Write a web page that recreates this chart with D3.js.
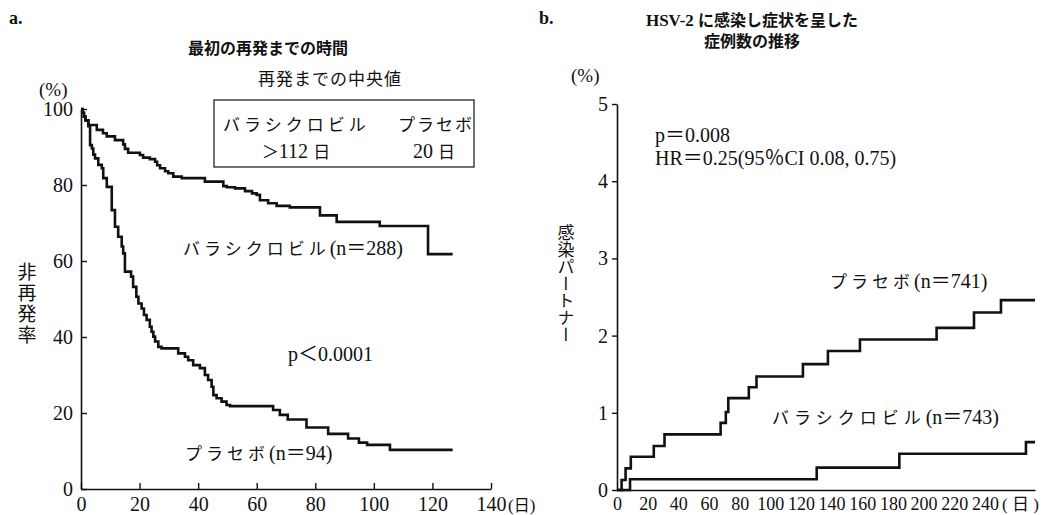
<!DOCTYPE html>
<html><head><meta charset="utf-8">
<script src="https://cdn.jsdelivr.net/npm/d3@7"></script>
<style>
body{margin:0;background:#fff;}
svg text{font-family:"Liberation Serif","Noto Sans CJK JP",serif;fill:#111;}
</style></head>
<body>
<svg id="c" width="1042" height="515"></svg>
<script>
// ---- Panel a: time to first recurrence (Kaplan-Meier, % recurrence-free)
const aValaDays = [0,0.5,1,1.5,2.5,5.4,7.5,8.8,11.6,14.4,15,16.1,20.1,21.2,23.5,25.3,26,27,28.7,29.8,31.5,34.4,42.3,48.6,49.8,52.6,56,58.4,60,61.1,63.9,66.8,71.3,81.6,87.3,102,118.5,126.9];
const aValaPct  = [100,99,98,97,95.8,94.5,93.6,92.8,91.8,90.7,89.5,88.5,87.9,87.2,86.8,86.1,85.2,84.4,83.6,83.1,82.2,81.8,80.9,79.7,79.4,79.1,78.4,77.8,77.4,76,75.2,74.5,74.1,72.0,70.3,69.2,61.8,61.8];
const aPlacDays = [0,0.5,1,1.5,2.5,3.1,3.7,4.2,4.8,5.9,7.1,7.6,8.8,10.5,11.6,12.7,13.9,14.4,15,17.1,17.8,18.9,19.6,20.7,21.5,22.4,23.5,24.1,24.7,25.3,26.4,27.5,33.2,35.5,36.6,38.3,40.6,42.3,43.4,44.6,45.2,46.3,48,49.7,50.9,65.6,67.9,70.6,77,84.4,91.2,94.9,97.7,105.5,126.9];
const aPlacPct  = [100,99,98,97,95.5,90.5,89.6,88,87,85.3,84.4,81.8,79.5,73.4,69,66.4,63.8,62,57.2,55.9,53.2,50.6,48.8,47.5,45.8,44.5,42.7,41.4,40.1,38.8,37.4,37.0,35.7,34.8,33.9,32.6,31.8,30.0,28.7,26.9,24.7,23.9,23.0,22.1,21.8,20.8,19.5,18.3,16.2,14.5,13.3,12.2,11.6,10.3,10.3];
const aXTicks = [0,20,40,60,80,100,120,140];
const aYTicks = [0,20,40,60,80,100];

// ---- Panel b: partners with symptomatic HSV-2 infection (%)
const bPlacDays = [0,3,5.6,9,24,31,67.6,71,72.6,86,91,121.3,137.6,158.5,208.5,232.9,250.5,272.7];
const bPlacPct  = [0,0.13,0.28,0.43,0.57,0.72,0.87,1.01,1.19,1.33,1.47,1.63,1.80,1.95,2.10,2.30,2.46,2.46];
const bValaDays = [0,8.5,130.3,184.2,266.8,272.7];
const bValaPct  = [0,0.14,0.29,0.47,0.62,0.62];
const bXTicks = [0,20,40,60,80,100,120,140,160,180,200,220,240];
const bYTicks = [0,1,2,3,4,5];

const svg = d3.select("#c");

function curve(g, x, y, days, vals){
  const pts = days.map((d,i)=>[d, vals[i]]);
  g.append("path").datum(pts)
    .attr("fill","none").attr("stroke","#111").attr("stroke-width",2.6)
    .attr("stroke-linejoin","miter")
    .attr("d", d3.line().x(p=>x(p[0])).y(p=>y(p[1])).curve(d3.curveStepAfter));
}
function styleAxis(g, size){
  g.attr("font-family","'Liberation Serif',serif");
  g.select(".domain").attr("stroke","#111").attr("stroke-width",1.6);
  g.selectAll(".tick line").attr("stroke","#111").attr("stroke-width",1.4);
  g.selectAll(".tick text").attr("font-size",size).attr("fill","#111");
}
// rich text: parts = [[string, kind]], kind "j" = kana (spaced), "l" = latin
function rich(g, x, y, parts, opts){
  opts = opts || {};
  const t = g.append("text").attr("x",x).attr("y",y);
  if (opts.anchor) t.attr("text-anchor",opts.anchor);
  if (opts.bold) t.attr("font-weight","bold");
  parts.forEach(([s,k])=>{
    t.append("tspan").text(s)
      .attr("font-size", k==="j" ? (opts.js||17) : (opts.ls||20))
      .style("letter-spacing", k==="j" ? (opts.sp==null?4:opts.sp)+"px" : "0px");
  });
  return t;
}

// ===== Panel a =====
const ax = d3.scaleLinear().domain([0,140]).range([81,491]);
const ay = d3.scaleLinear().domain([0,100]).range([489,109]);
const ga = svg.append("g");
styleAxis(ga.append("g").attr("transform","translate(0,489)")
  .call(d3.axisBottom(ax).tickValues(aXTicks).tickSizeInner(-6).tickSizeOuter(0).tickPadding(8)), 20);
styleAxis(ga.append("g").attr("transform","translate(81,0)")
  .call(d3.axisLeft(ay).tickValues(aYTicks).tickSizeInner(-6).tickSizeOuter(0).tickPadding(8)), 20);
curve(ga, ax, ay, aValaDays, aValaPct);
curve(ga, ax, ay, aPlacDays, aPlacPct);

rich(ga, 9, 24, [["a.","l"]], {bold:true, ls:18});
rich(ga, 268, 54, [["最初の再発までの時間","j"]], {anchor:"middle", bold:true, js:16, sp:0});
rich(ga, 39, 96, [["(%)","l"]], {ls:19});
rich(ga, 258, 85, [["再発までの中央値","j"]], {sp:1});
ga.append("rect").attr("x",214).attr("y",100).attr("width",260).attr("height",67)
  .attr("fill","none").attr("stroke","#111").attr("stroke-width",1.2);
rich(ga, 223, 131, [["バラシクロビル","j"]], {sp:4});
rich(ga, 398, 131, [["プラセボ","j"]], {sp:2});
rich(ga, 296, 158, [["＞","j"],["112 ","l"],["日","j"]], {anchor:"middle", sp:0});
rich(ga, 434, 158, [["20 ","l"],["日","j"]], {anchor:"middle", sp:0});
rich(ga, 183, 255, [["バラシクロビル","j"],["(n＝288)","l"]], {});
rich(ga, 288, 361, [["p＜0.0001","l"]], {});
rich(ga, 185, 460, [["プラセボ","j"],["(n＝94)","l"]], {});
rich(ga, 508, 511, [["(","l"],["日","j"],[")","l"]], {sp:0, ls:17, js:16});
ga.append("text").attr("x",25).attr("y",262).attr("font-size",19)
  .style("writing-mode","vertical-rl").style("text-orientation","upright")
  .style("letter-spacing","2px").text("非再発率");

// ===== Panel b =====
const bx = d3.scaleLinear().domain([0,272.7]).range([617,1035]);
const by = d3.scaleLinear().domain([0,5]).range([490,104]);
const gb = svg.append("g");
styleAxis(gb.append("g").attr("transform","translate(0,490)")
  .call(d3.axisBottom(bx).tickValues(bXTicks).tickSize(0).tickPadding(7)), 18);
styleAxis(gb.append("g").attr("transform","translate(617,0)")
  .call(d3.axisLeft(by).tickValues(bYTicks).tickFormat(d3.format("d"))
    .tickSizeInner(5).tickSizeOuter(0).tickPadding(4)), 20);
curve(gb, bx, by, bPlacDays, bPlacPct);
curve(gb, bx, by, bValaDays, bValaPct);

rich(gb, 539, 24, [["b.","l"]], {bold:true, ls:18});
rich(gb, 752, 26, [["HSV-2 ","l"],["に感染し症状を呈した","j"]], {anchor:"middle", bold:true, js:16, ls:17, sp:0});
rich(gb, 752, 47, [["症例数の推移","j"]], {anchor:"middle", bold:true, js:16, sp:0});
rich(gb, 571, 82, [["(%)","l"]], {ls:19});
rich(gb, 655, 142, [["p＝0.008","l"]], {});
rich(gb, 655, 165, [["HR＝0.25(95％CI 0.08, 0.75)","l"]], {});
rich(gb, 830, 288, [["プラセボ","j"],["(n＝741)","l"]], {});
rich(gb, 772, 424, [["バラシクロビル","j"],["(n＝743)","l"]], {sp:5});
rich(gb, 1002, 510, [["( ","l"],["日","j"],[" )","l"]], {sp:0, ls:17, js:17});
gb.append("text").attr("x",564).attr("y",224).attr("font-size",17)
  .style("writing-mode","vertical-rl").style("text-orientation","upright").text("感染パートナー");
</script>
</body></html>
